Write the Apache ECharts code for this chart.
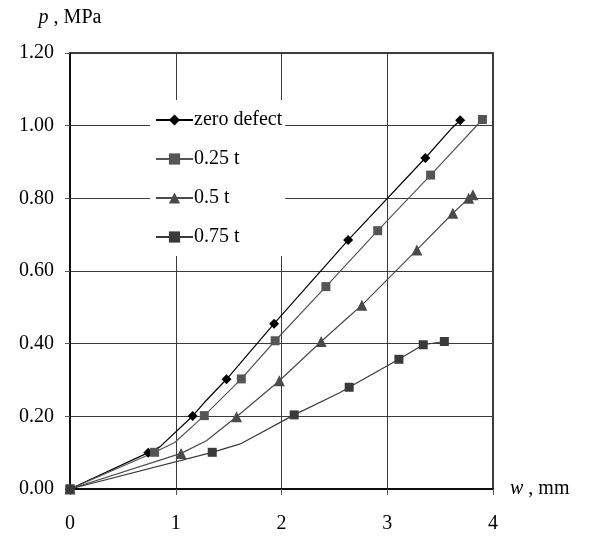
<!DOCTYPE html>
<html>
<head>
<meta charset="utf-8">
<script src="https://cdn.jsdelivr.net/npm/echarts@6/dist/echarts.min.js"></script>
<style>html,body{margin:0;padding:0;background:#fff;}#c{width:594px;height:537px;}</style>
</head>
<body>
<div id="c"></div>
<script>
// Data. m=1 -> marker shown, m=0 -> bend point only
var seriesNames = ['zero defect', '0.25 t', '0.5 t', '0.75 t'];
var zeroDefect = [[0,0,1],[0.74,0.100,1],[0.85,0.116,0],[1.16,0.201,1],[1.27,0.238,0],[1.48,0.302,1],[1.93,0.455,1],[2.63,0.685,1],[3.36,0.911,1],[3.60,0.990,0],[3.69,1.015,1]];
var t025 = [[0,0,1],[0.80,0.101,1],[0.99,0.128,0],[1.27,0.202,1],[1.62,0.303,1],[1.94,0.408,1],[2.42,0.557,1],[2.91,0.711,1],[3.41,0.864,1],[3.90,1.017,1]];
var t05 = [[0,0,1],[1.05,0.098,1],[1.29,0.133,0],[1.575,0.199,1],[1.98,0.298,1],[2.375,0.406,1],[2.62,0.470,0],[2.76,0.506,1],[3.28,0.658,1],[3.62,0.759,1],[3.77,0.800,1],[3.81,0.810,1]];
var t075 = [[0,0,1],[1.345,0.101,1],[1.61,0.124,0],[2.12,0.204,1],[2.55,0.265,0],[2.64,0.280,1],[3.11,0.357,1],[3.34,0.397,1],[3.54,0.406,1]];
var xTicks = ['0','1','2','3','4'];
var yTicks = ['0.00','0.20','0.40','0.60','0.80','1.00','1.20'];

var serifFont = '"Liberation Serif", "Times New Roman", serif';

function toData(arr){
  return arr.map(function(p){
    var d = {value:[p[0], p[1]]};
    if(!p[2]) d.symbol = 'none';
    return d;
  });
}

var styles = [
  {color:'#000000', symbol:'diamond', size:10},
  {color:'#555555', symbol:'rect', size:9},
  {color:'#4a4a4a', symbol:'triangle', size:11},
  {color:'#3a3a3a', symbol:'rect', size:9}
];
var allData = [zeroDefect, t025, t05, t075];

var series = allData.map(function(arr, i){
  return {
    name: seriesNames[i],
    type: 'line',
    data: toData(arr),
    symbol: styles[i].symbol,
    symbolSize: styles[i].size,
    showAllSymbol: true,
    lineStyle: {color: styles[i].color, width: 1.2},
    itemStyle: {color: styles[i].color},
    emphasis: {disabled: true},
    animation: false,
    z: 3
  };
});

var chart = echarts.init(document.getElementById('c'));
chart.setOption({
  backgroundColor: '#ffffff',
  animation: false,
  grid: {left: 70, right: 101, top: 53, bottom: 48, containLabel: false,
    show: true, borderColor: '#000', borderWidth: 1.5, backgroundColor: 'transparent'},
  legend: {
    orient: 'vertical',
    left: 150,
    top: 100,
    padding: [10, 3, 9, 5],
    itemGap: 19,
    itemWidth: 37,
    itemHeight: 14,
    backgroundColor: '#ffffff',
    textStyle: {fontFamily: serifFont, fontSize: 20, color: '#000', padding: [0,0,0,-4]},
    data: seriesNames,
    z: 10
  },
  xAxis: {
    type: 'value',
    min: 0, max: 4, interval: 1,
    name: '{i|w} , mm',
    nameLocation: 'end',
    nameGap: 17,
    nameTextStyle: {fontFamily: serifFont, fontSize: 20, color: '#000', align: 'left',
      rich: {i: {fontFamily: serifFont, fontSize: 20, fontStyle: 'italic', color: '#000'}}},
    axisLine: {show: true, onZero: false, lineStyle: {color: '#000', width: 1.5}},
    axisTick: {show: true, inside: false, length: 6, lineStyle: {color: '#555'}},
    axisLabel: {fontFamily: serifFont, fontSize: 20, color: '#000', margin: 25,
      formatter: function(v){ return xTicks[Math.round(v)]; }},
    splitLine: {show: true, lineStyle: {color: '#3a3a3a', width: 1}}
  },
  yAxis: {
    type: 'value',
    min: 0, max: 1.2, interval: 0.2,
    name: '{i|p} , MPa',
    nameLocation: 'end',
    nameGap: 25,
    nameTextStyle: {fontFamily: serifFont, fontSize: 20, color: '#000', align: 'center',
      rich: {i: {fontFamily: serifFont, fontSize: 20, fontStyle: 'italic', color: '#000'}}},
    axisLine: {show: true, onZero: false, lineStyle: {color: '#000', width: 1.5}},
    axisTick: {show: true, inside: false, length: 5, lineStyle: {color: '#555'}},
    axisLabel: {fontFamily: serifFont, fontSize: 20, color: '#000', margin: 16,
      formatter: function(v){ return yTicks[Math.round(v / 0.2)]; }},
    splitLine: {show: true, lineStyle: {color: '#3a3a3a', width: 1}}
  },
  series: series
});
</script>
</body>
</html>
